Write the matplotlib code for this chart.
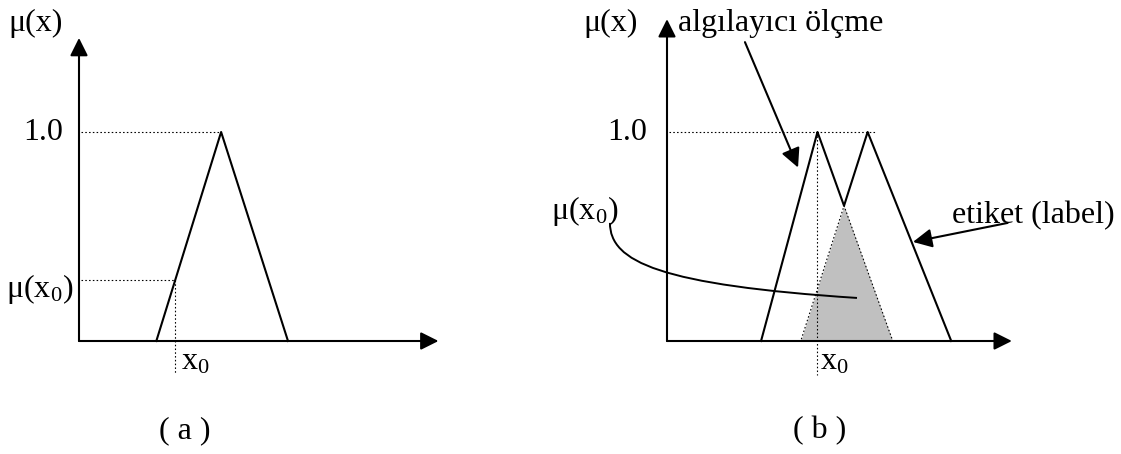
import numpy as np
import matplotlib
matplotlib.use("Agg")
import matplotlib.pyplot as plt
from matplotlib.path import Path
from matplotlib.patches import PathPatch

plt.rcParams['font.family'] = 'Liberation Serif'
plt.rcParams['mathtext.fontset'] = 'custom'
plt.rcParams['mathtext.rm'] = 'Liberation Serif'
plt.rcParams['mathtext.it'] = 'Liberation Serif:italic'
plt.rcParams['mathtext.default'] = 'rm'

# triangular membership functions (left foot, peak, right foot)
tri_a = [3.7, 6.8, 10.0]
x0_a = 4.6
tri_meas = [4.5, 7.2, 10.8]    # algılayıcı ölçme
tri_label = [6.4, 9.6, 13.6]   # etiket (label)
x0_b = 7.2

W, H = 1121, 454
PX_X, PX_MU = 20.9, 209.0      # pixels per unit on x and on mu
FS = 23
LW = 1.5
DOT = dict(color='black', lw=0.8, linestyle=(0, (1.4, 2.0)))


def mu(x, t):
    return np.interp(x, t, [0.0, 1.0, 0.0])


def place(ax, origin, xlim, ylim):
    ox, oy = origin
    left = ox + xlim[0] * PX_X
    bottom = oy - ylim[0] * PX_MU
    ax.set_position([left / W, (H - bottom) / H,
                     (xlim[1] - xlim[0]) * PX_X / W,
                     (ylim[1] - ylim[0]) * PX_MU / H])
    ax.set_xlim(xlim)
    ax.set_ylim(ylim)
    ax.axis('off')


def arrow(ax, start, tip, size=15, lw=LW):
    ax.annotate('', xy=tip, xytext=start,
                arrowprops=dict(arrowstyle='-|>,head_length=1.0,head_width=0.5',
                                mutation_scale=size * 0.72, lw=lw, color='black',
                                shrinkA=0, shrinkB=0),
                annotation_clip=False, zorder=5)


def axes_arrows(ax, x_end, mu_end):
    arrow(ax, (0, 0), (x_end, 0))
    arrow(ax, (0, 0), (0, mu_end))


fig = plt.figure(figsize=(W / 100, H / 100), dpi=100)
ax_a = fig.add_axes([0, 0, 1, 1])
ax_b = fig.add_axes([0, 0, 1, 1])
place(ax_a, (79, 341), (-3.7, 18), (-0.5, 1.6))
place(ax_b, (667, 341), (-5.5, 21), (-0.5, 1.6))

# ---- (a) ----
ax = ax_a
m0 = mu(x0_a, tri_a)
ax.plot(tri_a, [0, 1, 0], color='black', lw=LW, zorder=3)
ax.plot([0.1, tri_a[1]], [1, 1], **DOT)
ax.plot([0.1, x0_a], [m0, m0], **DOT)
ax.plot([x0_a, x0_a], [m0, -0.155], **DOT)
axes_arrows(ax, 17.2, 1.45)
ax.text(-2.06, 1.52, 'μ(x)', fontsize=FS, ha='center', va='center')
ax.text(-0.77, 1.0, '1.0', fontsize=FS, ha='right', va='center')
ax.text(-0.29, 0.25, 'μ(x$_0$)', fontsize=FS, ha='right', va='center')
ax.text(4.9, -0.1, 'x$_0$', fontsize=FS, ha='left', va='center')
ax.text(5.07, -0.43, '( a )', fontsize=FS, ha='center', va='center')

# ---- (b) ----
ax = ax_b
xs = np.union1d(np.linspace(tri_meas[0], tri_label[2], 3001), tri_meas + tri_label)
upper = np.maximum(mu(xs, tri_meas), mu(xs, tri_label))
lower = np.minimum(mu(xs, tri_meas), mu(xs, tri_label))
ax.fill_between(xs, 0, lower, color='#c0c0c0', lw=0, zorder=1)
ax.plot(xs, lower, zorder=2, **DOT)
ax.plot(xs, upper, color='black', lw=LW, zorder=3)
ax.plot([0.1, tri_label[1] + 0.4], [1, 1], **DOT)
ax.plot([x0_b, x0_b], [1, -0.165], **DOT)
axes_arrows(ax, 16.5, 1.54)

# curve from the mu(x0) label into the shaded area
curve = Path([(-2.73, 0.565), (-2.73, 0.378), (-0.33, 0.268), (9.09, 0.206)],
             [Path.MOVETO, Path.CURVE4, Path.CURVE4, Path.CURVE4])
ax.add_patch(PathPatch(curve, fc='none', ec='black', lw=1.4, zorder=4))

arrow(ax, (3.73, 1.43), (6.27, 0.83), size=16)
arrow(ax, (16.3, 0.565), (11.77, 0.474), size=16)

ax.text(-2.68, 1.52, 'μ(x)', fontsize=FS, ha='center', va='center')
ax.text(0.53, 1.52, 'algılayıcı ölçme', fontsize=FS, ha='left', va='center')
ax.text(-0.96, 1.0, '1.0', fontsize=FS, ha='right', va='center')
ax.text(-3.95, 0.62, 'μ(x$_0$)', fontsize=FS, ha='center', va='center')
ax.text(13.65, 0.60, 'etiket (label)', fontsize=FS, ha='left', va='center')
ax.text(7.32, -0.1, 'x$_0$', fontsize=FS, ha='left', va='center')
ax.text(7.3, -0.43, '( b )', fontsize=FS, ha='center', va='center')

fig.savefig('out.png', dpi=100)
